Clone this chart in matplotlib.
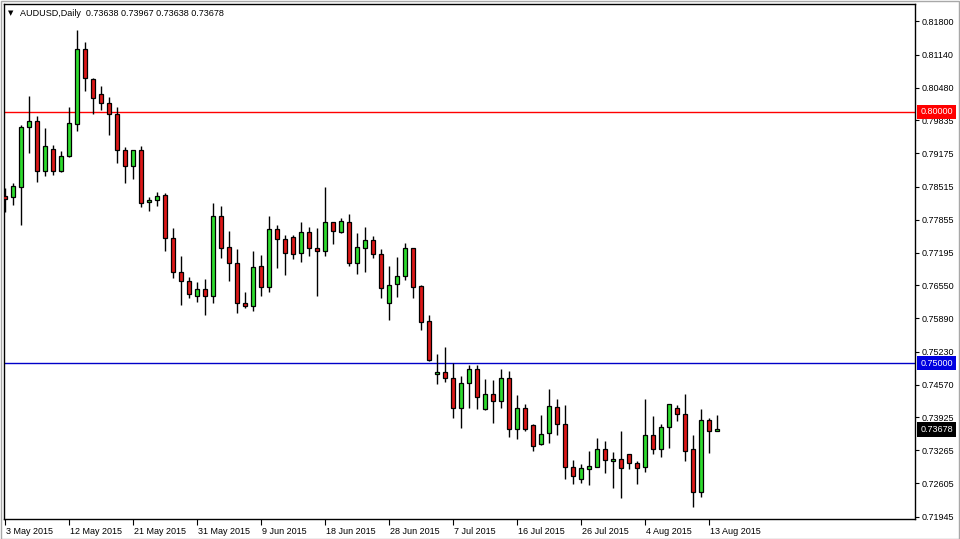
import numpy as np
import pandas as pd
import matplotlib
matplotlib.use("Agg")
import matplotlib.pyplot as plt
from matplotlib.transforms import blended_transform_factory, ScaledTranslation
from matplotlib.patches import Rectangle

# ---------------- data (AUDUSD daily) ----------------
start_date = "2015-05-03"   # first bar; broker shows Sun..Fri bars
opens = [0.78326, 0.78306, 0.78505, 0.79700, 0.79819, 0.78824, 0.79262, 0.78824, 0.79122, 0.79759,
         0.81253, 0.80655, 0.80357, 0.80178, 0.79958, 0.79242, 0.78923, 0.79242, 0.78207, 0.78246,
         0.78346, 0.77490, 0.76813, 0.76634, 0.76335, 0.76475, 0.76335, 0.77928, 0.77311, 0.76992,
         0.76196, 0.76136, 0.76932, 0.76514, 0.77669, 0.77470, 0.77510, 0.77191, 0.77609, 0.77291,
         0.77231, 0.77808, 0.77609, 0.77808, 0.76992, 0.77291, 0.77450, 0.77171, 0.76196, 0.76574,
         0.76733, 0.77291, 0.76534, 0.75838, 0.74782, 0.74822, 0.74703, 0.74106, 0.74603, 0.74882,
         0.74086, 0.74384, 0.74245, 0.74703, 0.73687, 0.74106, 0.73767, 0.73389, 0.73608, 0.74125,
         0.73787, 0.72931, 0.72692, 0.72891, 0.72931, 0.73289, 0.73050, 0.73090, 0.73190, 0.73011,
         0.72931, 0.73568, 0.73289, 0.73727, 0.74106, 0.73986, 0.73289, 0.72433, 0.73867, 0.73638]
highs = [0.78485, 0.78585, 0.79740, 0.80317, 0.79919, 0.79680, 0.79341, 0.79222, 0.80098, 0.81631,
         0.81392, 0.80675, 0.80516, 0.80297, 0.80098, 0.79302, 0.79242, 0.79321, 0.78306, 0.78406,
         0.78386, 0.77689, 0.77132, 0.76714, 0.76614, 0.76674, 0.78187, 0.78127, 0.77629, 0.77271,
         0.76415, 0.77231, 0.77151, 0.77928, 0.77749, 0.77550, 0.77550, 0.77808, 0.77709, 0.77689,
         0.78505, 0.77808, 0.77888, 0.77968, 0.77589, 0.77709, 0.77530, 0.77271, 0.76932, 0.77112,
         0.77390, 0.77291, 0.76554, 0.75957, 0.75181, 0.75320, 0.75001, 0.74743, 0.74962, 0.74962,
         0.74683, 0.74663, 0.74882, 0.74842, 0.74364, 0.74185, 0.73787, 0.73966, 0.74484, 0.74285,
         0.74165, 0.73070, 0.72991, 0.73250, 0.73508, 0.73449, 0.73230, 0.73648, 0.73190, 0.73050,
         0.74285, 0.73946, 0.73787, 0.74185, 0.74165, 0.74384, 0.73568, 0.74086, 0.73906, 0.73967]
lows = [0.78008, 0.78147, 0.77749, 0.79182, 0.78605, 0.78724, 0.78744, 0.78804, 0.79102, 0.79620,
        0.80416, 0.79958, 0.80038, 0.79540, 0.78983, 0.78585, 0.78665, 0.78107, 0.78027, 0.78127,
        0.77231, 0.76694, 0.76156, 0.76295, 0.76216, 0.75957, 0.76196, 0.77092, 0.76634, 0.75997,
        0.76096, 0.76037, 0.76335, 0.76415, 0.76893, 0.76753, 0.77072, 0.77012, 0.77132, 0.76335,
        0.77132, 0.77370, 0.77589, 0.76932, 0.76773, 0.76813, 0.77092, 0.76295, 0.75857, 0.76315,
        0.76654, 0.76295, 0.75658, 0.75041, 0.74583, 0.74623, 0.73906, 0.73707, 0.74106, 0.74086,
        0.74066, 0.73807, 0.74106, 0.73528, 0.73488, 0.73648, 0.73250, 0.73369, 0.73409, 0.73568,
        0.72692, 0.72592, 0.72612, 0.72573, 0.72931, 0.72812, 0.72513, 0.72314, 0.72891, 0.72592,
        0.72831, 0.73190, 0.73130, 0.73309, 0.73847, 0.73050, 0.72135, 0.72334, 0.73210, 0.73638]
closes = [0.78266, 0.78525, 0.79700, 0.79819, 0.78824, 0.79321, 0.78824, 0.79122, 0.79779, 0.81253,
          0.80675, 0.80277, 0.80178, 0.79958, 0.79242, 0.78923, 0.79242, 0.78187, 0.78246, 0.78326,
          0.77490, 0.76813, 0.76634, 0.76375, 0.76475, 0.76335, 0.77928, 0.77291, 0.76992, 0.76196,
          0.76136, 0.76913, 0.76514, 0.77669, 0.77470, 0.77191, 0.77171, 0.77609, 0.77291, 0.77231,
          0.77808, 0.77629, 0.77828, 0.76992, 0.77311, 0.77450, 0.77171, 0.76495, 0.76554, 0.76733,
          0.77291, 0.76514, 0.75818, 0.75061, 0.74822, 0.74703, 0.74106, 0.74603, 0.74882, 0.74325,
          0.74384, 0.74245, 0.74703, 0.73687, 0.74106, 0.73687, 0.73349, 0.73588, 0.74145, 0.73787,
          0.72931, 0.72752, 0.72911, 0.72951, 0.73289, 0.73070, 0.73090, 0.72911, 0.73011, 0.72911,
          0.73568, 0.73289, 0.73727, 0.74185, 0.73986, 0.73250, 0.72433, 0.73867, 0.73648, 0.73678]

x_tick_labels = ["3 May 2015", "12 May 2015", "21 May 2015", "31 May 2015", "9 Jun 2015",
                 "18 Jun 2015", "28 Jun 2015", "7 Jul 2015", "16 Jul 2015", "26 Jul 2015",
                 "4 Aug 2015", "13 Aug 2015"]
y_tick_values = [0.81800, 0.81140, 0.80480, 0.79835, 0.79175, 0.78515, 0.77855, 0.77195,
                 0.76550, 0.75890, 0.75230, 0.74570, 0.73925, 0.73265, 0.72605, 0.71945]
y_tick_labels = ["%.5f" % v for v in y_tick_values]
level_red = 0.80000
level_blue = 0.75000
symbol_title = "AUDUSD,Daily"

# ---------------- build ----------------
O = np.array(opens); H = np.array(highs); L = np.array(lows); C = np.array(closes)
all_days = pd.date_range(start_date, periods=120, freq="D")
bar_dates = all_days[all_days.weekday != 5][:len(O)]
x = np.arange(len(bar_dates))
tick_pos = x[::8]

FONT = "Liberation Sans"
FS = 6.5
GREEN = "#2EDC2E"
RED = "#DC1818"

fig = plt.figure(figsize=(9.6, 5.39), dpi=100)
fig.patch.set_facecolor("white")
ax = fig.add_axes([4 / 960, 20 / 539, 911 / 960, 515 / 539])
ax.set_facecolor("white")

# reference levels
ax.axhline(level_red, color="#FF0000", lw=1, zorder=1)
ax.axhline(level_blue, color="#0000C8", lw=1, zorder=1)

# candles
up = C >= O
ax.vlines(x, L, H, color="black", lw=1, zorder=3)
ax.bar(x[up], (C - O)[up], bottom=O[up], width=0.62, color=GREEN,
       edgecolor="black", linewidth=0.9, zorder=4)
ax.bar(x[~up], (O - C)[~up], bottom=C[~up], width=0.62, color=RED,
       edgecolor="black", linewidth=0.9, zorder=4)

ax.set_xlim(-0.125, 113.75)
ax.set_ylim(0.71896, 0.82148)

# spines
for s in ax.spines.values():
    s.set_color("black")
    s.set_linewidth(1)

# y axis on the right
ax.yaxis.tick_right()
ax.set_yticks(y_tick_values)
ax.set_yticklabels(y_tick_labels, fontsize=FS, family=FONT, color="black")
ax.tick_params(axis="y", direction="out", length=3, width=0.8, pad=2)

# x axis
ax.set_xticks(tick_pos)
ax.set_xticklabels(x_tick_labels, fontsize=FS, family=FONT, color="black", ha="left")
ax.tick_params(axis="x", direction="out", length=4, width=0.8, pad=2)
offset = ScaledTranslation(1 / 100, 0, fig.dpi_scale_trans)
for lab in ax.get_xticklabels():
    lab.set_transform(lab.get_transform() + offset)

# price tags on the right
btrans = blended_transform_factory(ax.transAxes, ax.transData)
last_close = C[-1]
for val, fc in [(level_red, "#FF0000"), (level_blue, "#0000E0"), (last_close, "black")]:
    ax.text(1.0058, val, "%.5f" % val, transform=btrans, ha="left", va="center",
            fontsize=FS, family=FONT, color="white", zorder=10, clip_on=False,
            bbox=dict(boxstyle="square,pad=0.32", fc=fc, ec=fc, lw=0))

# title line
fig.text(8 / 960, 1 - 13 / 539, "\u25BC", fontsize=5, family="DejaVu Sans",
         va="center", ha="left", color="black")
fig.text(20 / 960, 1 - 13 / 539,
         "%s  %.5f %.5f %.5f %.5f" % (symbol_title, O[-1], H[-1], L[-1], C[-1]),
         fontsize=FS, family=FONT, va="center", ha="left", color="black")

# window border
fig.patches.append(Rectangle((0.5 / 960, 0.5 / 539), 958.5 / 960, 537.5 / 539,
                             transform=fig.transFigure, fill=False,
                             ec="#A8A8A8", lw=1))

fig.savefig("out.png", dpi=100, facecolor="white")
